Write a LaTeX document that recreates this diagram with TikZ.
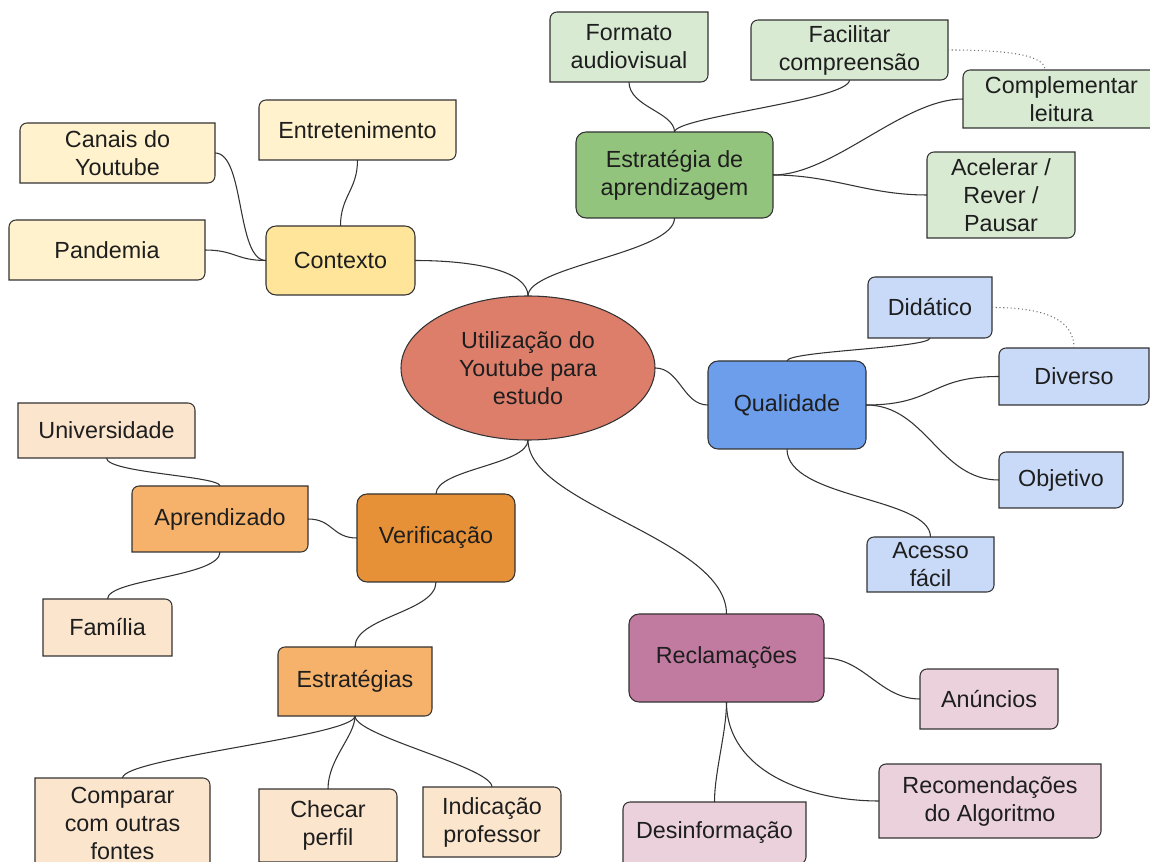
\documentclass[tikz,border=0pt]{standalone}
\usepackage{fontspec}
\setmainfont{Liberation Sans}
\usetikzlibrary{shapes.geometric,calc,backgrounds}
\definecolor{bord}{HTML}{333333}
\definecolor{txt}{HTML}{1E1E1E}
\definecolor{yl}{HTML}{FFF2CC}
\definecolor{ym}{HTML}{FFE599}
\definecolor{gl}{HTML}{D9EAD3}
\definecolor{gm}{HTML}{93C47D}
\definecolor{bl}{HTML}{C9DAF8}
\definecolor{bm}{HTML}{6D9EEB}
\definecolor{ol}{HTML}{FCE5CD}
\definecolor{om}{HTML}{F6B26B}
\definecolor{od}{HTML}{E69138}
\definecolor{ml}{HTML}{EAD1DC}
\definecolor{mm}{HTML}{C27BA0}
\definecolor{rd}{HTML}{DD7E6B}
% box node: name, x1, y1, x2, y2, text (pixel units, y downwards)
\newcommand\bx[6]{\node[box,minimum width={(#4-#2)*0.75pt},minimum height={(#5-#3)*0.75pt}] (#2) at ({(#2+#4)/2},{(#3+#5)/2}) {#6};}
\newcommand\bxn[6]{\node[box,minimum width={(#4-#2)*0.75pt},minimum height={(#5-#3)*0.75pt}] (#1) at ({(#2+#4)/2},{(#3+#5)/2}) {#6};}
% outline with individual corner radii: node, fill, rNW, rNE, rSE, rSW
\newcommand\outl[6]{%
  \begin{pgfonlayer}{background}
  \filldraw[bline,fill=#2]
    ($(#1.north west)+(#3,0)$) -- ($(#1.north east)+(-#4,0)$)
    .. controls ($(#1.north east)+(-0.45*#4,0)$) and ($(#1.north east)+(0,0.45*#4)$) .. ($(#1.north east)+(0,#4)$)
    -- ($(#1.south east)+(0,-#5)$)
    .. controls ($(#1.south east)+(0,-0.45*#5)$) and ($(#1.south east)+(-0.45*#5,0)$) .. ($(#1.south east)+(-#5,0)$)
    -- ($(#1.south west)+(#6,0)$)
    .. controls ($(#1.south west)+(0.45*#6,0)$) and ($(#1.south west)+(0,-0.45*#6)$) .. ($(#1.south west)+(0,-#6)$)
    -- ($(#1.north west)+(0,#3)$)
    .. controls ($(#1.north west)+(0,0.45*#3)$) and ($(#1.north west)+(0.45*#3,0)$) .. ($(#1.north west)+(#3,0)$)
    -- cycle;
  \end{pgfonlayer}}
\newcommand\leafA[2]{\outl{#1}{#2}{7}{0}{7}{0}}
\newcommand\leafB[2]{\outl{#1}{#2}{0}{7}{0}{0}}
\newcommand\mainbox[2]{\outl{#1}{#2}{10}{10}{10}{10}}
\begin{document}
\begin{tikzpicture}[x=0.75pt,y=-0.75pt,
  bline/.style={draw=bord,line width=0.8pt,line join=miter},
  box/.style={draw=none,outer sep=0pt,inner sep=0pt,
    align=center,text=txt,font=\fontsize{17.5}{21}\selectfont},
  conn/.style={draw=bord,line width=0.8pt},
  dots/.style={draw=bord!70,line width=0.8pt,dotted}]
\useasboundingbox (0,0) rectangle (1150,862);
\clip (0,0) rectangle (1150,862);

% centre
\node[ellipse,draw=bord,line width=0.8pt,fill=rd,outer sep=0pt,inner sep=0pt,align=center,text=txt,
  font=\fontsize{17.5}{21}\selectfont,minimum width={254*0.75pt},minimum height={144*0.75pt}]
  (root) at (528,368) {Utilização do\\Youtube para\\estudo};

% Contexto
\bxn{canais}{20}{123}{215}{183}{Canais do\\Youtube}
\bxn{entre}{259}{100}{456}{160}{Entretenimento}
\bxn{pand}{9}{220}{205}{280}{Pandemia}
\bxn{ctx}{266}{226}{415}{295}{Contexto}
\leafA{canais}{yl}\leafA{entre}{yl}\leafA{pand}{yl}\mainbox{ctx}{ym}

% Estrategia
\bxn{form}{550}{12}{708}{82}{Formato\\audiovisual}
\bxn{facil}{751}{20}{948}{80}{Facilitar\\compreensão}
\bxn{compl}{963}{70}{1160}{128}{Complementar\\leitura}
\bxn{estr}{576}{132}{773}{218}{Estratégia de\\aprendizagem}
\bxn{acel}{927}{152}{1075}{238}{Acelerar /\\Rever /\\Pausar}
\leafA{form}{gl}\leafA{facil}{gl}\leafA{compl}{gl}\leafA{acel}{gl}\mainbox{estr}{gm}

% Qualidade
\bxn{dida}{868}{277}{992}{338}{Didático}
\bxn{dive}{999}{348}{1149}{405}{Diverso}
\bxn{obje}{999}{452}{1123}{508}{Objetivo}
\bxn{aces}{867}{537}{994}{592}{Acesso\\fácil}
\bxn{qual}{708}{361}{866}{449}{Qualidade}
\leafA{dida}{bl}\leafA{dive}{bl}\leafA{obje}{bl}\leafA{aces}{bl}\mainbox{qual}{bm}

% Verificacao
\bxn{univ}{18}{403}{195}{458}{Universidade}
\bxn{apre}{132}{486}{308}{552}{Aprendizado}
\bxn{fami}{43}{599}{172}{656}{Família}
\bxn{veri}{357}{494}{515}{582}{Verificação}
\bxn{estg}{278}{647}{432}{716}{Estratégias}
\bxn{comp}{35}{778}{210}{868}{Comparar\\com outras\\fontes}
\bxn{chec}{259}{789}{397}{862}{Checar\\perfil}
\bxn{indi}{423}{787}{561}{857}{Indicação\\professor}
\leafB{univ}{ol}\leafA{apre}{om}\leafB{fami}{ol}\mainbox{veri}{od}\leafA{estg}{om}
\leafB{comp}{ol}\leafB{chec}{ol}\outl{indi}{ol}{0}{7}{7}{0}

% Reclamacoes
\bxn{recl}{629}{614}{824}{702}{Reclamações}
\bxn{anun}{920}{669}{1058}{729}{Anúncios}
\bxn{reco}{879}{764}{1101}{838}{Recomendações\\do Algoritmo}
\bxn{desi}{623}{802}{806}{864}{Desinformação}
\mainbox{recl}{mm}\leafA{anun}{ml}\leafA{reco}{ml}\leafA{desi}{ml}

\coordinate (cdot) at ($(compl.north west)+(82,0)$);

% connectors
\draw[conn] (root.north) .. controls +(0,-25) and +(60,0) .. (ctx.east);
\draw[conn] (root.north) .. controls +(0,-30) and +(0,35) .. (estr.south);
\draw[conn] (root.east) .. controls +(25,0) and +(-25,0) .. (qual.west);
\draw[conn] (root.south) .. controls +(0,25) and +(0,-25) .. (veri.north);
\draw[conn] (root.south) .. controls +(0,65) and +(0,-75) .. (recl.north);

\draw[conn] (canais.east) .. controls +(30,0) and +(-30,0) .. (ctx.west);
\draw[conn] (pand.east) .. controls +(30,0) and +(-30,0) .. (ctx.west);
\draw[conn] (entre.south) .. controls +(0,30) and +(0,-30) .. (ctx.north);

\draw[conn] (form.south) .. controls +(0,25) and +(0,-20) .. (estr.north);
\draw[conn] (facil.south) .. controls +(0,20) and +(0,-15) .. (estr.north);
\draw[conn] (compl.west) .. controls +(-60,0) and +(60,0) .. (estr.east);
\draw[conn] (acel.west) .. controls +(-60,0) and +(60,0) .. (estr.east);
\draw[dots] (facil.east) .. controls +(60,0) and +(0,-15) .. (cdot);

\draw[conn] (dida.south) .. controls +(0,10) and +(0,-10) .. (qual.north);
\draw[conn] (dive.west) .. controls +(-70,0) and +(70,0) .. (qual.east);
\draw[conn] (obje.west) .. controls +(-60,0) and +(60,0) .. (qual.east);
\draw[conn] (aces.north) .. controls +(0,-40) and +(0,50) .. (qual.south);
\draw[dots] (dida.east) .. controls +(60,0) and +(0,-25) .. (dive.north);

\draw[conn] (univ.south) .. controls +(0,15) and +(0,-10) .. (apre.north);
\draw[conn] (apre.south) .. controls +(0,25) and +(0,-20) .. (fami.north);
\draw[conn] (apre.east) .. controls +(25,0) and +(-25,0) .. (veri.west);
\draw[conn] (veri.south) .. controls +(0,30) and +(0,-30) .. (estg.north);
\draw[conn] (estg.south) .. controls +(0,20) and +(0,-20) .. (comp.north);
\draw[conn] (estg.south) .. controls +(0,20) and +(0,-30) .. (chec.north);
\draw[conn] (estg.south) .. controls +(0,20) and +(0,-20) .. (indi.north);

\draw[conn] (recl.east) .. controls +(40,0) and +(-40,0) .. (anun.west);
\draw[conn] (recl.south) .. controls +(0,70) and +(-70,0) .. (reco.west);
\draw[conn] (recl.south) .. controls +(0,30) and +(0,-30) .. (desi.north);
\end{tikzpicture}
\end{document}
